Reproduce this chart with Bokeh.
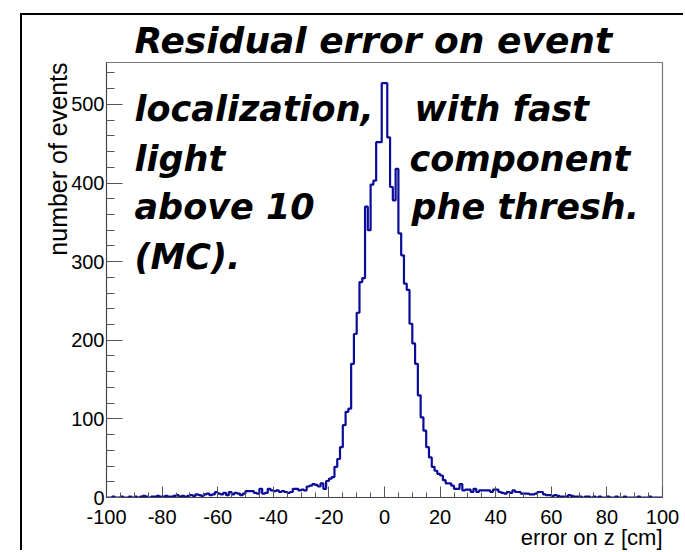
from bokeh.plotting import figure
from bokeh.models import FixedTicker, Label, Range1d, Title
from bokeh.embed import file_html
from bokeh.resources import INLINE

# ---- data ----
bin_low = -100
bin_width = 1
counts_neg = [  # bins -100 .. -1
    0, 0, 1, 0, 0, 1, 0, 0, 1, 0,
    1, 0, 1, 2, 1, 0, 1, 1, 2, 1,
    1, 2, 1, 1, 2, 3, 1, 2, 1, 2,
    3, 2, 4, 3, 2, 4, 5, 3, 4, 7,
    5, 4, 6, 3, 7, 4, 6, 5, 3, 5,
    8, 8, 8, 6, 5, 11, 5, 6, 11, 9,
    8, 9, 7, 8, 7, 6, 7, 11, 11, 9,
    10, 9, 14, 15, 17, 16, 14, 18, 11, 21,
    24, 26, 39, 49, 64, 92, 109, 113, 170, 208,
    235, 274, 279, 370, 340, 398, 403, 452, 452, 527,
]
counts_pos = [  # bins 0 .. 99
    527, 458, 395, 378, 418, 336, 308, 272, 264, 221,
    196, 170, 130, 102, 85, 64, 51, 39, 34, 30,
    28, 22, 18, 18, 15, 11, 11, 17, 9, 10,
    10, 7, 11, 7, 9, 9, 9, 9, 7, 10,
    10, 7, 6, 5, 7, 6, 9, 7, 7, 5,
    5, 5, 4, 4, 5, 7, 7, 4, 3, 3,
    2, 3, 2, 1, 1, 1, 3, 2, 1, 1,
    1, 0, 1, 1, 0, 1, 0, 1, 0, 0,
    1, 0, 0, 1, 0, 0, 1, 0, 0, 0,
    0, 1, 0, 0, 0, 1, 0, 0, 0, 0,
]
x_major = [-100, -80, -60, -40, -20, 0, 20, 40, 60, 80, 100]
x_minor = list(range(-100, 101, 5))
y_major = [0, 100, 200, 300, 400, 500]
y_minor = list(range(0, 541, 20))
x_title = "error on z [cm]"
y_title = "number of events"
note_left = ["Residual error on event", "localization,", "light", "above 10", "(MC)."]
note_right = ["", "with fast", "component", "phe thresh.", ""]

counts = counts_neg + counts_pos
edges = [bin_low + i * bin_width for i in range(len(counts) + 1)]
y_max = max(counts) * 1.05

# ---- geometry (canvas sits at 22,15 in the window) ----
W, H = 663, 537
FL, FR, FT, FB = 106, 662, 62, 497  # frame in window px

p = figure(width=W, height=H, output_backend="svg", toolbar_location=None,
           x_range=Range1d(-100, 100), y_range=Range1d(0, y_max),
           min_border_left=FL - 22, min_border_right=W - (FR - 22),
           min_border_top=FT - 15, min_border_bottom=H - (FB - 15))
p.styles = {"margin-left": "20px", "margin-top": "13px",
            "border-left": "2px solid black", "border-top": "2px solid black"}
p.background_fill_color = "white"
p.border_fill_color = "white"
p.grid.visible = False
p.outline_line_color = "#777777"
p.outline_line_width = 1.2


def X(px):
    return -100 + (px - FL) * 200 / (FR - FL)


def Y(py):
    return (FB - py) * y_max / (FB - FT)


p.step(edges, counts + [counts[-1]], mode="after", line_color="#0b0b99", line_width=2.2)

tick_font = "Liberation Sans"
for ax in (p.xaxis[0], p.yaxis[0]):
    ax.axis_line_color = "#444444"
    ax.major_tick_line_color = "#555555"
    ax.minor_tick_line_color = "#555555"
    ax.major_tick_out = 0
    ax.minor_tick_out = 0
    ax.major_label_text_font = tick_font
    ax.major_label_text_font_size = "20px"
    ax.major_label_text_color = "black"

p.xaxis.ticker = FixedTicker(ticks=x_major, minor_ticks=x_minor)
p.yaxis.ticker = FixedTicker(ticks=y_major, minor_ticks=y_minor)
p.xaxis.major_label_overrides = {t: str(t) for t in x_major}
p.yaxis.major_label_overrides = {t: str(t) for t in y_major}
p.xaxis.major_tick_in = 11
p.xaxis.minor_tick_in = 5
p.yaxis.major_tick_in = 16
p.yaxis.minor_tick_in = 8
p.xaxis.major_label_standoff = 12
p.yaxis.major_label_standoff = 2

note_font = dict(text_font="DejaVu Sans", text_font_style="bold italic",
                 text_color="black")

# side texts (outside the frame) as titles
p.add_layout(Title(text=note_left[0], align="left", offset=134 - FL, standoff=3,
                   text_font_size="36px", **note_font), "above")
p.add_layout(Title(text=x_title, align="right", standoff=-8, text_font=tick_font,
                   text_font_size="22px", text_font_style="normal",
                   text_color="black"), "below")
p.add_layout(Title(text=y_title, align="right", standoff=-6, text_font=tick_font,
                   text_font_size="25px", text_font_style="normal",
                   text_color="black"), "left")

baselines = [51, 108, 158, 206, 256]
right_x = [0, 414, 409, 411, 0]
for i in range(1, len(note_left)):
    p.add_layout(Label(x=X(134), y=Y(baselines[i]), text=note_left[i], text_align="left",
                       text_baseline="alphabetic", text_font_size="35px", **note_font))
    if note_right[i]:
        p.add_layout(Label(x=X(right_x[i]), y=Y(baselines[i]), text=note_right[i],
                           text_align="left", text_baseline="alphabetic",
                           text_font_size="35px", **note_font))

open("out.html", "w").write(file_html(p, INLINE))
